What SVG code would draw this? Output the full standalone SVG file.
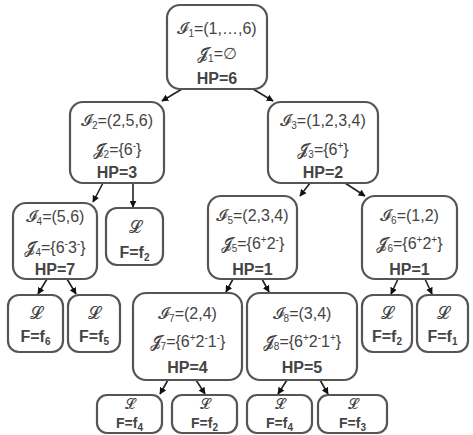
<svg xmlns="http://www.w3.org/2000/svg" width="473" height="435" viewBox="0 0 473 435">
<style>
.box{fill:#fff;stroke:#555;stroke-width:2.2}
.t{font-family:"Liberation Sans","DejaVu Sans",sans-serif;font-size:16px;fill:#444;text-anchor:middle}
.b{font-weight:bold}
.L{font-family:"DejaVu Sans",sans-serif;font-size:17px;fill:#444;text-anchor:middle}
.sm{font-size:14px}
.sub{font-size:10px}
.sup{font-size:10px}
.c line{stroke:#222;stroke-width:1.6;marker-end:url(#ah)}
</style>
<defs>
<marker id="ah" viewBox="0 0 10 10" refX="9" refY="5" markerWidth="7" markerHeight="7" markerUnits="userSpaceOnUse" orient="auto">
<path d="M0,0 L10,5 L0,10 z" fill="#111"/>
</marker>
</defs>
<rect width="473" height="435" fill="#fff"/>
<g class="c" id="connectors">
<line x1="182" y1="89" x2="162" y2="101"/>
<line x1="253" y1="89" x2="273" y2="101"/>
<line x1="103" y1="183" x2="93" y2="202"/>
<line x1="133" y1="183" x2="133" y2="207"/>
<line x1="310" y1="183" x2="300" y2="196"/>
<line x1="345" y1="183" x2="365" y2="196"/>
<line x1="47" y1="279" x2="38" y2="294"/>
<line x1="67" y1="279" x2="76" y2="294"/>
<line x1="233" y1="279" x2="226" y2="292"/>
<line x1="262" y1="279" x2="269" y2="292"/>
<line x1="398" y1="279" x2="391" y2="294"/>
<line x1="425" y1="279" x2="432" y2="294"/>
<line x1="168" y1="380" x2="160" y2="394"/>
<line x1="196" y1="380" x2="205" y2="394"/>
<line x1="287" y1="380" x2="278" y2="394"/>
<line x1="320" y1="380" x2="328" y2="394"/>
</g>
<g id="n1">
<rect class="box" x="167" y="5" width="100" height="84" rx="13"/>
<text class="t" x="217" y="34">𝓘<tspan class="sub" baseline-shift="-3">1</tspan>=(1,…,6)</text>
<text class="t" x="217" y="59">𝓙<tspan class="sub" baseline-shift="-3">1</tspan>=∅</text>
<text class="t b" x="217" y="84">HP=6</text>
</g>
<g id="n2">
<rect class="box" x="70" y="102" width="94" height="81" rx="13"/>
<text class="t" x="117" y="126">𝓘<tspan class="sub" baseline-shift="-3">2</tspan>=(2,5,6)</text>
<text class="t" x="117" y="155">𝓙<tspan class="sub" baseline-shift="-3">2</tspan>={6<tspan class="sup" baseline-shift="6">-</tspan>}</text>
<text class="t b" x="117" y="178">HP=3</text>
</g>
<g id="n3">
<rect class="box" x="268" y="102" width="110" height="81" rx="13"/>
<text class="t" x="323" y="126">𝓘<tspan class="sub" baseline-shift="-3">3</tspan>=(1,2,3,4)</text>
<text class="t" x="323" y="155">𝓙<tspan class="sub" baseline-shift="-3">3</tspan>={6<tspan class="sup" baseline-shift="6">+</tspan>}</text>
<text class="t b" x="323" y="178">HP=2</text>
</g>
<g id="n4">
<rect class="box" x="13" y="203" width="84" height="76" rx="13"/>
<text class="t" x="55" y="222">𝓘<tspan class="sub" baseline-shift="-3">4</tspan>=(5,6)</text>
<text class="t" x="55" y="253">𝓙<tspan class="sub" baseline-shift="-3">4</tspan>={6<tspan class="sup" baseline-shift="6">-</tspan>3<tspan class="sup" baseline-shift="6">-</tspan>}</text>
<text class="t b" x="55" y="275">HP=7</text>
</g>
<g id="l2">
<rect class="box" x="106" y="208" width="57" height="57" rx="11"/>
<text class="L" x="134.5" y="233">𝓛</text>
<text class="t b" x="134.5" y="258">F=f<tspan class="sub" baseline-shift="-3">2</tspan></text>
</g>
<g id="n5">
<rect class="box" x="208" y="196" width="89" height="83" rx="13"/>
<text class="t" x="252.5" y="221">𝓘<tspan class="sub" baseline-shift="-3">5</tspan>=(2,3,4)</text>
<text class="t" x="252.5" y="249">𝓙<tspan class="sub" baseline-shift="-3">5</tspan>={6<tspan class="sup" baseline-shift="6">+</tspan>2<tspan class="sup" baseline-shift="6">-</tspan>}</text>
<text class="t b" x="252.5" y="275">HP=1</text>
</g>
<g id="n6">
<rect class="box" x="362" y="196" width="95" height="83" rx="13"/>
<text class="t" x="409.5" y="221">𝓘<tspan class="sub" baseline-shift="-3">6</tspan>=(1,2)</text>
<text class="t" x="409.5" y="249">𝓙<tspan class="sub" baseline-shift="-3">6</tspan>={6<tspan class="sup" baseline-shift="6">+</tspan>2<tspan class="sup" baseline-shift="6">+</tspan>}</text>
<text class="t b" x="409.5" y="275">HP=1</text>
</g>
<g id="l6">
<rect class="box" x="8" y="295" width="55" height="57" rx="11"/>
<text class="L" x="35.5" y="319">𝓛</text>
<text class="t b" x="35.5" y="342">F=f<tspan class="sub" baseline-shift="-3">6</tspan></text>
</g>
<g id="l5">
<rect class="box" x="68" y="295" width="52" height="57" rx="11"/>
<text class="L" x="94" y="319">𝓛</text>
<text class="t b" x="94" y="342">F=f<tspan class="sub" baseline-shift="-3">5</tspan></text>
</g>
<g id="n7">
<rect class="box" x="133" y="293" width="109" height="87" rx="13"/>
<text class="t" x="187.5" y="319">𝓘<tspan class="sub" baseline-shift="-3">7</tspan>=(2,4)</text>
<text class="t" x="187.5" y="347">𝓙<tspan class="sub" baseline-shift="-3">7</tspan>={6<tspan class="sup" baseline-shift="6">+</tspan>2<tspan class="sup" baseline-shift="6">-</tspan>1<tspan class="sup" baseline-shift="6">-</tspan>}</text>
<text class="t b" x="187.5" y="373">HP=4</text>
</g>
<g id="n8">
<rect class="box" x="247" y="293" width="110" height="87" rx="13"/>
<text class="t" x="302" y="319">𝓘<tspan class="sub" baseline-shift="-3">8</tspan>=(3,4)</text>
<text class="t" x="302" y="347">𝓙<tspan class="sub" baseline-shift="-3">8</tspan>={6<tspan class="sup" baseline-shift="6">+</tspan>2<tspan class="sup" baseline-shift="6">-</tspan>1<tspan class="sup" baseline-shift="6">+</tspan>}</text>
<text class="t b" x="302" y="373">HP=5</text>
</g>
<g id="l62">
<rect class="box" x="362" y="295" width="50" height="57" rx="11"/>
<text class="L" x="387" y="319">𝓛</text>
<text class="t b" x="387" y="342">F=f<tspan class="sub" baseline-shift="-3">2</tspan></text>
</g>
<g id="l61">
<rect class="box" x="417" y="295" width="51" height="57" rx="11"/>
<text class="L" x="442.5" y="319">𝓛</text>
<text class="t b" x="442.5" y="342">F=f<tspan class="sub" baseline-shift="-3">1</tspan></text>
</g>
<g id="l74">
<rect class="box" x="97" y="395" width="65" height="38" rx="10"/>
<text class="L sm" x="129.5" y="409">𝓛</text>
<text class="t b sm" x="129.5" y="428">F=f<tspan class="sub" baseline-shift="-3">4</tspan></text>
</g>
<g id="l72">
<rect class="box" x="172" y="395" width="65" height="38" rx="10"/>
<text class="L sm" x="204.5" y="409">𝓛</text>
<text class="t b sm" x="204.5" y="428">F=f<tspan class="sub" baseline-shift="-3">2</tspan></text>
</g>
<g id="l84">
<rect class="box" x="247" y="395" width="65" height="38" rx="10"/>
<text class="L sm" x="279.5" y="409">𝓛</text>
<text class="t b sm" x="279.5" y="428">F=f<tspan class="sub" baseline-shift="-3">4</tspan></text>
</g>
<g id="l83">
<rect class="box" x="318" y="395" width="69" height="38" rx="10"/>
<text class="L sm" x="352.5" y="409">𝓛</text>
<text class="t b sm" x="352.5" y="428">F=f<tspan class="sub" baseline-shift="-3">3</tspan></text>
</g>
</svg>
